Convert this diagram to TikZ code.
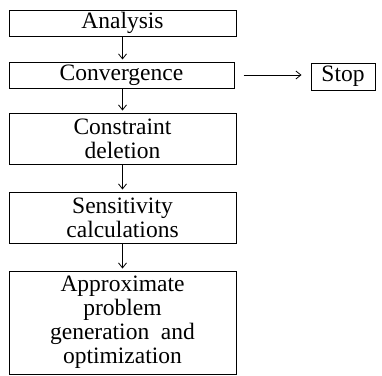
\documentclass[tikz,border=0pt]{standalone}
\usepackage{fontspec}
\setmainfont{Liberation Serif}
\usetikzlibrary{arrows.meta}
\newcommand\bxfont{\fontsize{23.5}{24}\selectfont}
\begin{document}
\begin{tikzpicture}[x=1pt,y=-1pt,
  flowbox/.style={draw, line width=1pt, inner sep=0pt, align=center,
    font=\bxfont, minimum width=227pt},
  arr/.style={-{Straight Barb[length=5pt,width=8pt]}, line width=0.8pt}]
\useasboundingbox (0,0) rectangle (382,375);
\node[flowbox, minimum height=26pt] (ana) at (122.5,23) {Analysis};
\node[flowbox, minimum height=26pt, minimum width=225pt] (conv) at (121.5,75) {Convergence};
\node[flowbox, minimum height=27pt, minimum width=64pt] (stop) at (343,76.5) {Stop};
\node[flowbox, minimum height=51pt] (cons) at (122.5,138.5) {Constraint\\deletion};
\node[flowbox, minimum height=51pt] (sens) at (122.5,217.5) {Sensitivity\\calculations};
\node[flowbox, minimum height=103pt] (appr) at (122.5,322.5) {Approximate\\problem\\generation\ \ and\\optimization};
\draw[arr, shorten >=2pt] (ana.south) -- (ana.south |- conv.north);
\draw[arr, shorten >=2pt] (ana.south |- conv.south) -- (cons.north);
\draw[arr, shorten >=2pt] (cons.south) -- (sens.north);
\draw[arr, shorten >=2pt] (sens.south) -- (appr.north);
\draw[arr, shorten <=9pt, shorten >=9pt] (conv.east) -- (conv.east -| stop.west);
\end{tikzpicture}
\end{document}
